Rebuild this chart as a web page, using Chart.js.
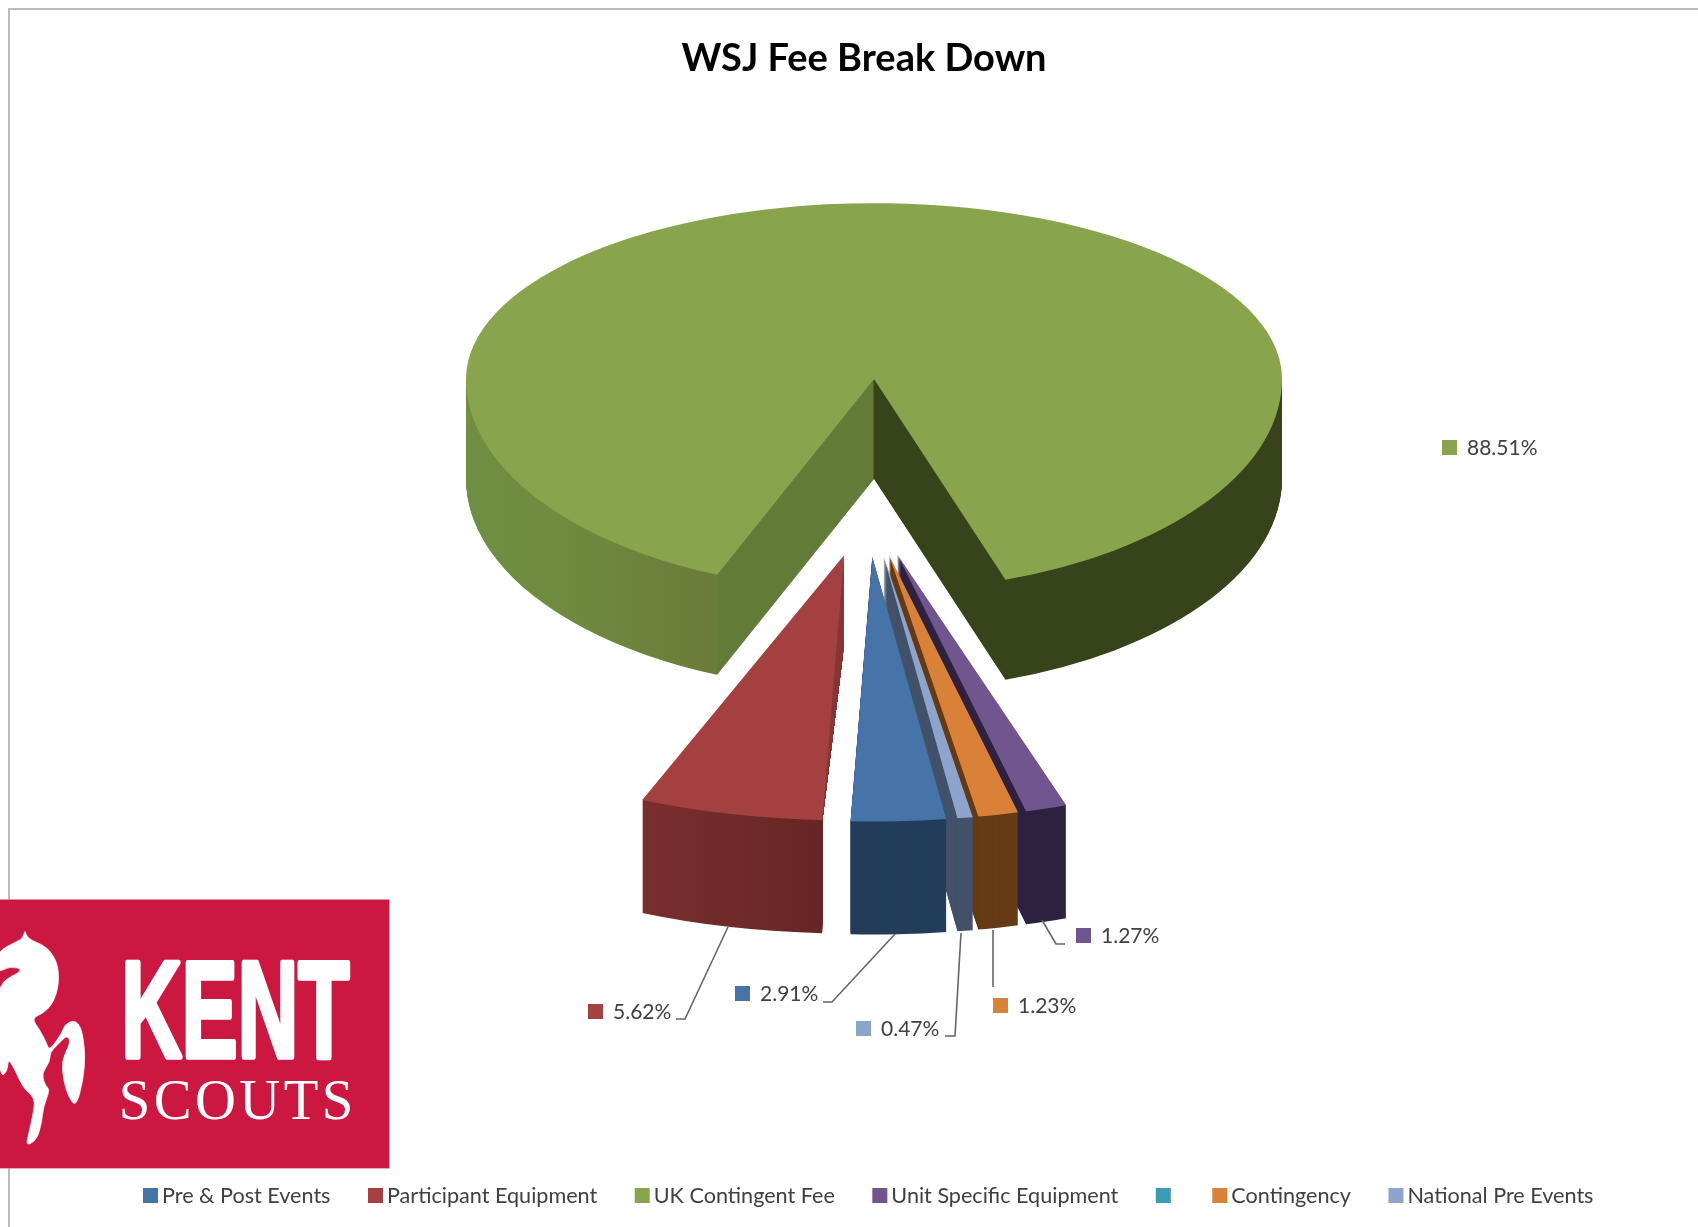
<!DOCTYPE html>
<html lang="en">
<head>
    <meta charset="UTF-8">
    <title>WSJ Fee Break Down</title>
    <script src="https://cdn.jsdelivr.net/npm/chart.js"></script>
    <style>
        html, body { margin: 0; padding: 0; background: #fff; overflow: hidden; }
        #frame { position: absolute; left: 8px; top: 8px; width: 1700px; height: 1300px; border-left: 2px solid #bcbcbc; border-top: 2px solid #bcbcbc; }
        #graph { position: absolute; left: 0; top: 0; filter: blur(0.6px); }
        #logo { position: absolute; left: 0; top: 890px; }
    </style>
</head>
<body>
    <div id="frame"></div>
    <canvas id="graph" width="1698" height="1227"></canvas>

    <svg id="logo" width="400" height="290" viewBox="0 0 1200 870">
        <rect x="-5" y="28" width="1173" height="807" fill="#cc1840" stroke="#e8a8b8" stroke-width="2"/>
        <path id="horse" fill="#fff" stroke="#fff" stroke-width="2" stroke-linejoin="round"/>
        <text x="364" y="500" textLength="684" lengthAdjust="spacingAndGlyphs" font-family="Liberation Sans" font-weight="700" font-size="410" fill="#fff" stroke="#fff" stroke-width="16" stroke-linejoin="round">KENT</text>
        <text x="356" y="688" textLength="704" font-family="Liberation Serif" font-size="170" fill="#fff">SCOUTS</text>
    </svg>

    <script>
        const categories = ['Pre & Post Events', 'Participant Equipment', 'UK Contingent Fee', 'Unit Specific Equipment', '', 'Contingency', 'National Pre Events'];
        const shares = [2.91, 5.62, 88.51, 1.27, 0, 1.23, 0.47];
        const topColors = ['#4673a8', '#a44140', '#88a44d', '#71558f', '#3e9bb3', '#d98138', '#8da5cd'];
        const wallColors = ['#233d5b', '#6c2a2a', '#37441b', '#2e2240', '#2a6a7a', '#653a15', '#43526a'];

        // where the callouts sit: [square x, square y, leader line points]
        const callouts = [
            [742, 993, [[895, 934], [832, 1002], [823, 1002]]],
            [595, 1011, [[728, 927], [685, 1019], [676, 1019]]],
            [1449, 447, []],
            [1083, 935, [[1042, 920], [1056, 944], [1065, 944]]],
            null,
            [1000, 1005, [[993, 930], [993, 987]]],
            [863, 1028, [[961, 933], [955, 1036], [945, 1036]]]
        ];

        // outline of the horse in the logo
        const horseOutline = [[75, 120], [78, 135], [92, 150], [140, 170], [172, 215], [178, 280], [160, 340], [130, 370], [95, 385], [120, 420], [140, 460], [148, 482], [185, 430], [195, 402], [225, 390], [245, 415], [256, 490], [250, 570], [228, 652], [205, 620], [190, 570], [185, 510], [212, 458], [202, 435], [175, 462], [150, 487], [150, 515], [125, 550], [135, 585], [150, 600], [130, 650], [125, 700], [110, 750], [78, 768], [85, 735], [100, 670], [105, 625], [70, 595], [45, 540], [25, 505], [22, 545], [0, 562], [-10, 420], [-10, 280], [75, 240], [30, 228], [-10, 250], [-10, 185], [50, 155], [68, 145]];

        const green = 2;
        // far half of the big pie is flatter than the near half, that fakes the perspective
        const bigPie = { cx: 874, cy: 379, rx: 408, depth: 100, pull: 0, squash: 0.52, squashFar: 0.431 };
        const smallPie = { cx: 867, cy: 503, rx: 525, depth: 113, pull: 106, squash: 0.505 };

        function pieOf(i) { return i === green ? bigPie : smallPie; }

        function apexOf(el, i) {
            const p = pieOf(i);
            const mid = (el.startAngle + el.endAngle) / 2;
            return { x: p.cx + p.pull * Math.cos(mid), y: p.cy + p.pull * p.squash * Math.sin(mid) };
        }

        function cornerOf(el, i, angle) {
            const a = apexOf(el, i), p = pieOf(i);
            return { x: a.x + p.rx * Math.cos(angle), y: a.y + p.rx * p.squash * Math.sin(angle) };
        }

        // gradient along x, stops given in page pixels
        function xGradient(ctx, el, i, stops) {
            const a = apexOf(el, i), k = pieOf(i).rx / el.outerRadius;
            const x0 = stops[0][0], x1 = stops[stops.length - 1][0];
            const g = ctx.createLinearGradient(el.x + (x0 - a.x) / k, 0, el.x + (x1 - a.x) / k, 0);
            stops.forEach(s => g.addColorStop((s[0] - x0) / (x1 - x0), s[1]));
            return g;
        }

        function drawWith(ctx, el, i, dy, fill, squash) {
            const saved = el.options;
            const o = Object.create(saved);
            o.backgroundColor = fill;
            el.options = o;
            const a = apexOf(el, i), k = pieOf(i).rx / el.outerRadius;
            ctx.save();
            ctx.translate(a.x, a.y + dy);
            ctx.scale(k, k * (squash || pieOf(i).squash));
            ctx.translate(-el.x, -el.y);
            el.draw(ctx);
            ctx.restore();
            el.options = saved;
        }

        function drawWall(ctx, el, i, fill) {
            for (let d = pieOf(i).depth; d > 0; d--) drawWith(ctx, el, i, d, fill);
        }

        function clipRows(ctx, chart, y0, y1) {
            ctx.save();
            ctx.beginPath();
            ctx.rect(0, y0, chart.width, y1 - y0);
            ctx.clip();
        }

        const pie3d = {
            id: 'pie3d',
            beforeDatasetsDraw(chart) {
                const ctx = chart.ctx;
                const arcs = chart.getDatasetMeta(0).data;

                // big slice: the wall changes shade at the notch
                const g = arcs[green];
                const leftTip = cornerOf(g, green, g.startAngle).x;
                const notch = apexOf(g, green);
                clipRows(ctx, chart, notch.y, chart.height);
                drawWall(ctx, g, green, xGradient(ctx, g, green, [
                    [467, '#6f8f42'], [560, '#6f8b40'], [leftTip - 1, '#6b7b39'], [leftTip, '#627b37'],
                    [notch.x - 1, '#627b37'], [notch.x, wallColors[green]], [1282, wallColors[green]]
                ]));
                drawWith(ctx, g, green, 0, topColors[green]);
                ctx.restore();
                clipRows(ctx, chart, 0, notch.y + 1);
                drawWith(ctx, g, green, 0, topColors[green], bigPie.squashFar);
                ctx.restore();

                // pulled out slices, right to left so each covers the wall of the next
                [3, 5, 6, 0].forEach(i => {
                    drawWall(ctx, arcs[i], i, wallColors[i]);
                    drawWith(ctx, arcs[i], i, 0, topColors[i]);
                });

                // red one: outer face up to its corner, only a thin wedge of side wall past it
                const r = arcs[1];
                const a = apexOf(r, 1), c = cornerOf(r, 1, r.startAngle), lc = cornerOf(r, 1, r.endAngle);
                ctx.save();
                ctx.beginPath();
                ctx.rect(0, 0, c.x, chart.height);
                ctx.clip();
                drawWall(ctx, r, 1, xGradient(ctx, r, 1, [[lc.x, '#7a2e2e'], [c.x, '#652625']]));
                ctx.restore();
                ctx.save();
                ctx.beginPath();
                ctx.moveTo(a.x, a.y);
                ctx.lineTo(a.x, a.y + 90);
                ctx.lineTo(c.x, c.y);
                ctx.closePath();
                ctx.clip();
                drawWall(ctx, r, 1, '#8a3837');
                ctx.restore();
                drawWith(ctx, r, 1, 0, topColors[1]);
                return false;
            },
            afterDraw(chart) {
                const ctx = chart.ctx;
                ctx.save();

                // callouts
                ctx.font = '21px Lato';
                ctx.textBaseline = 'middle';
                shares.forEach((v, i) => {
                    const c = callouts[i];
                    if (!c) return;
                    ctx.fillStyle = topColors[i];
                    ctx.fillRect(c[0] - 7, c[1] - 7, 15, 15);
                    ctx.fillStyle = '#404040';
                    ctx.fillText(v.toFixed(2) + '%', c[0] + 18, c[1] + 1);
                    if (c[2].length) {
                        ctx.strokeStyle = '#666';
                        ctx.lineWidth = 1.6;
                        ctx.beginPath();
                        c[2].forEach((p, n) => n ? ctx.lineTo(p[0], p[1]) : ctx.moveTo(p[0], p[1]));
                        ctx.stroke();
                    }
                });

                // legend row
                let x = 143;
                ctx.font = '21.6px Lato';
                categories.forEach((name, i) => {
                    ctx.fillStyle = topColors[i];
                    ctx.fillRect(x, 1188, 15, 15);
                    ctx.fillStyle = '#404040';
                    ctx.fillText(name, x + 19, 1196);
                    x += 19 + ctx.measureText(name).width + 37.5;
                });
                ctx.restore();
            }
        };

        // soften the outline corners
        function smoothPath(pts) {
            let d = '';
            pts.forEach((p, n) => {
                const q = pts[(n + 1) % pts.length];
                const mid = [(p[0] + q[0]) / 2, (p[1] + q[1]) / 2];
                d += n ? `Q${p[0]} ${p[1]} ${mid[0]} ${mid[1]} ` : `M${mid[0]} ${mid[1]} `;
            });
            return d + `Q${pts[0][0]} ${pts[0][1]} ${(pts[0][0] + pts[1][0]) / 2} ${(pts[0][1] + pts[1][1]) / 2} Z`;
        }
        document.getElementById('horse').setAttribute('d', smoothPath(horseOutline));

        new Chart(document.getElementById('graph').getContext('2d'), {
            type: 'pie',
            data: {
                labels: categories,
                datasets: [{
                    data: shares,
                    backgroundColor: topColors,
                    borderWidth: 0,
                    radius: 200,
                    rotation: 171.9
                }]
            },
            options: {
                responsive: false,
                animation: false,
                layout: { padding: { left: 30 } },
                plugins: {
                    legend: { display: false },
                    tooltip: { enabled: false },
                    title: {
                        display: true,
                        text: 'WSJ Fee Break Down',
                        color: '#000',
                        font: { family: 'Lato', size: 38, weight: 'bold' },
                        padding: { top: 36, bottom: 10 }
                    }
                }
            },
            plugins: [pie3d]
        });
    </script>
</body>
</html>
